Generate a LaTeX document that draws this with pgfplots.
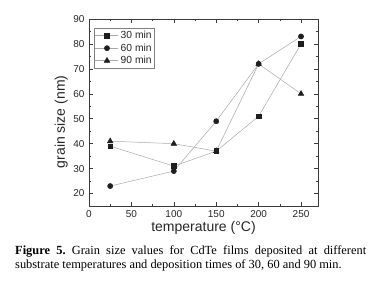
\documentclass[border=0pt]{standalone}
\usepackage{pgfplots}
\pgfplotsset{compat=1.18}
\usepackage{fontspec}
\setmainfont{Liberation Sans}
\newfontfamily\capfont{Liberation Serif}
\definecolor{mk}{HTML}{1E1E1E}
\definecolor{ln}{HTML}{A8A8A8}
\definecolor{ax}{HTML}{3A3A3A}
\begin{document}
\frenchspacing
\begin{tikzpicture}
\useasboundingbox (-89pt,-75pt) rectangle (286pt,206pt);
\begin{axis}[
  scale only axis,
  width=229pt, height=187pt,
  xmin=0, xmax=270, ymin=15, ymax=90,
  xtick={0,50,100,150,200,250},
  ytick={20,30,40,50,60,70,80,90},
  minor x tick num=1, minor y tick num=1,
  tick align=inside,
  major tick length=4pt, minor tick length=2pt,
  axis line style={ax, line width=0.8pt},
  every tick/.style={ax, line width=0.6pt},
  tick label style={font=\fontsize{10}{12}\selectfont, text=black!85},
  /pgf/number format/assume math mode=true,
  xticklabel style={yshift=-1pt},
  yticklabel style={xshift=-1pt},
  xlabel={temperature (°C)},
  ylabel={grain size (nm)},
  xlabel style={at={(axis description cs:0.5,-0.139)}, anchor=base, font=\fontsize{14}{16}\selectfont, text=black!85},
  ylabel style={at={(axis description cs:-0.105,0.45)}, anchor=base, font=\fontsize{14}{16}\selectfont, text=black!85},
  legend style={at={(axis description cs:0,1)}, anchor=north west, xshift=5pt, yshift=-9pt,
    draw=black!50, line width=0.5pt, fill=white, font=\fontsize{10.3}{11}\selectfont,
    inner sep=1pt, row sep=-0.5pt, text=black!85},
  legend cell align=left,
  legend image code/.code={\draw[mark repeat=2,mark phase=2] plot coordinates {(0pt,0pt)(11.5pt,0pt)(23pt,0pt)};},
  every axis plot/.append style={ln, line width=0.5pt, mark options={draw=mk, fill=mk, solid}},
]
\addplot[mark=square*, mark size=2.4pt] coordinates {(25,39) (100,31) (150,37) (200,51) (250,80)};
\addplot[mark=*, mark size=2.6pt] coordinates {(25,23) (100,29) (150,49) (200,72) (250,83)};
\addplot[mark=triangle*, mark size=3.2pt] coordinates {(25,41) (100,40) (150,37) (200,72) (250,60)};
\legend{30 min, 60 min, 90 min}
\end{axis}
\node[anchor=base west, inner sep=0pt, text width=351pt, align=justify,
  font=\capfont\fontsize{12.4}{13}\selectfont] at (-74pt,-49pt)
  {\textbf{Figure 5.} Grain size values for CdTe films deposited at different\linebreak substrate temperatures and deposition times of 30, 60 and 90 min.};
\end{tikzpicture}
\end{document}
